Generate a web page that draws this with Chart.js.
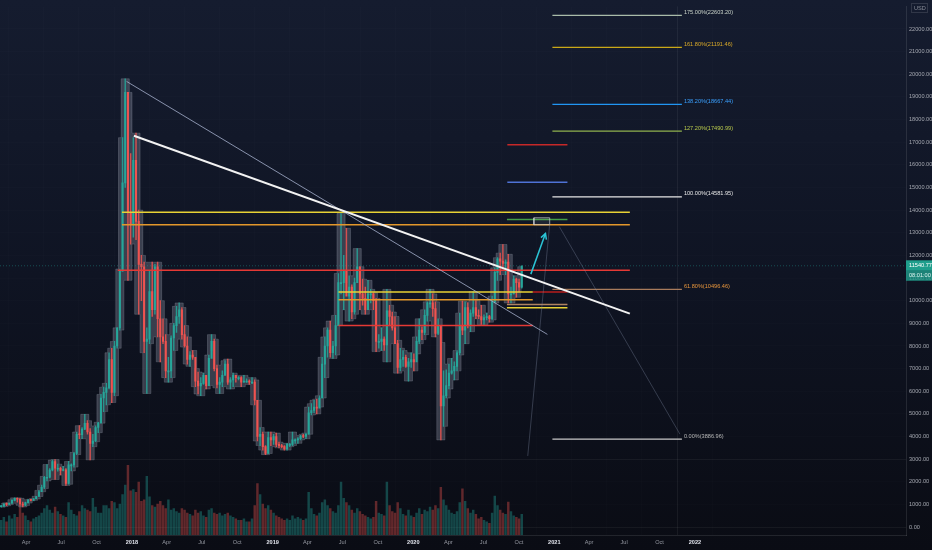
<!DOCTYPE html>
<html>
<head>
<meta charset="utf-8">
<script src="https://cdn.jsdelivr.net/npm/chart.js@4.4.0/dist/chart.umd.min.js"></script>
<style>
  html, body { margin: 0; padding: 0; background: #0b0e18; }
  #wrap { width: 932px; height: 550px; }
</style>
</head>
<body>
<div id="wrap"><canvas id="chart" width="932" height="550"></canvas></div>
<script>
// BTCUSD, nến tuần từ 2017-01-23 tới 2020-10-05
const firstWeek = "2017-01-23";
const firstOpen = 900;

const highs = [
  935,1040,1070,1065,1210,1290,1290,1270,1100,1100,1210,1230,1260,1360,1620,1850,2240,2760,2580,2960,2980,2780,2650,2680,2580,2900,2790,3300,4200,4480,4400,4980,4700,4350,4100,4470,4630,5860,6180,6350,7700,7900,8200,8800,11400,17200,19800,19200,16500,
  17200,17400,14000,12000,11700,8800,11300,11700,11600,11700,10000,9200,8500,7500,8450,9000,9750,9900,9700,8900,8400,7750,7800,7000,6850,6600,6800,6700,7600,8500,8300,7150,6600,6900,7350,7420,6600,6800,6700,6650,6650,6700,6550,6500,6600,6500,5600,4400,4200,3600,4200,4200,4100,
  4150,3750,3660,3600,3700,3700,4200,3900,3950,4050,4100,4150,5300,5450,5600,5650,5800,7500,8400,8800,9100,8200,9350,11200,13850,12000,13200,11100,10700,11000,12300,11500,10950,10600,10900,10500,10350,10100,8500,8800,8400,10500,9800,9500,9300,8250,7900,7800,7600,7450,7700,7650,
  8400,9200,8850,9600,9950,10500,10300,9950,9200,8150,6900,6950,7200,7450,7300,7800,9450,9980,9950,9900,9600,10400,10000,9600,9800,9380,9450,9350,10200,11450,11900,12100,12480,11800,12050,10600,11100,11000,10950,11500
];
const lows = [
  880,910,940,990,1050,1160,1100,960,890,950,1060,1160,1180,1240,1350,1560,1700,2040,2170,2480,2100,2470,2300,2480,1840,1890,2480,2650,3200,3900,3900,4300,4100,2970,3550,3770,4170,4590,5100,5400,6100,5500,5800,7900,8700,11300,15000,10900,12500,
  12800,12700,9400,10000,7700,5900,8100,9300,9400,8400,7300,8100,6600,6400,6600,7800,8600,9000,8300,7950,7200,7100,7400,6200,5880,5800,6300,6100,6250,7800,6900,6150,5900,6200,6800,6300,6100,6200,6400,6500,6200,6400,6400,6300,6350,5400,3800,3600,3400,3200,3250,3600,3650,
  3550,3500,3500,3400,3400,3550,3600,3700,3700,3850,3950,3900,4100,4950,5050,5000,5300,5700,6600,7500,7500,7450,7600,8900,10300,9600,10800,9100,9200,9400,11000,9600,9800,9400,9600,9900,9600,7750,7900,7800,7800,7300,8900,8700,8100,6800,6900,7100,7050,6450,7050,6900,
  7650,8100,8280,8500,9100,9700,9300,8400,8500,3850,4450,5700,6100,6750,6500,6900,7600,8500,8100,8800,8630,9300,9200,9200,8950,8950,9150,9050,9150,9900,10900,11150,11400,11150,9900,9900,10300,10150,10400,10550
];
const closes = [
  920,1020,1000,1055,1180,1270,1230,1020,970,1080,1190,1180,1250,1350,1560,1760,2200,2200,2520,2890,2600,2600,2500,2530,1930,2750,2750,3250,4100,4080,4330,4580,4200,3700,3800,4400,4600,5700,5950,6150,7400,5950,8000,8800,11300,15200,19200,13900,13400,
  16200,13500,11600,11500,8200,8300,10400,9600,11500,9200,8400,8200,6900,6900,8350,8900,9300,9600,8500,8000,7400,7600,7500,6450,6230,6350,6700,6250,7450,8200,7000,6300,6400,6700,7200,6400,6500,6700,6600,6600,6400,6450,6450,6400,6400,5600,4000,4100,3550,3250,3950,3850,4000,
  3650,3600,3550,3450,3650,3650,3850,3850,3900,4020,4000,4100,5050,5150,5300,5250,5700,7200,8000,8700,7700,8000,8900,10800,10800,11300,10200,10600,9500,10800,11500,10300,10100,9600,10300,10300,10000,8200,8200,8300,8050,9550,9300,8800,8100,7050,7400,7500,7100,7300,7400,7300,
  8200,8700,8600,9350,9900,9900,9650,8550,8900,5350,5800,6250,6800,6900,7100,7700,8900,8700,9700,8900,9450,9700,9350,9300,9150,9250,9300,9200,9950,11250,11850,11750,11650,11700,10300,10300,10950,10800,10600,11540.77
];
// khối lượng (đơn vị tương đối)
const volumes = [
  20,24,18,26,22,28,24,40,30,26,20,18,22,24,26,30,36,40,34,30,38,32,28,26,24,44,34,28,26,32,40,36,34,32,50,38,30,30,40,40,36,46,44,36,42,55,68,95,60,
  62,58,72,46,48,80,52,40,38,42,46,40,36,48,34,36,32,30,36,34,30,28,26,34,30,32,26,24,34,36,30,28,30,26,28,30,26,24,22,20,20,22,18,18,22,40,70,55,42,36,40,34,30,
  26,24,22,20,22,20,26,22,24,22,20,22,58,36,28,26,30,44,48,40,36,32,30,40,72,50,44,40,34,30,36,32,28,26,24,22,24,46,30,28,26,72,40,32,30,44,36,28,26,34,26,24,
  30,36,28,34,32,38,34,40,36,65,48,40,34,30,28,32,44,63,46,36,30,34,28,22,24,20,18,16,30,53,40,34,30,28,45,32,26,24,22,28
];
const lastPrice = 11540.77;

// trục
const xTickDates = ["2017-04-01","2017-07-01","2017-10-01","2018-01-01","2018-04-01","2018-07-01","2018-10-01","2019-01-01","2019-04-01","2019-07-01","2019-10-01","2020-01-01","2020-04-01","2020-07-01","2020-10-01","2021-01-01","2021-04-01","2021-07-01","2021-10-01","2022-01-01"];
const xTickLabels = ["Apr","Jul","Oct","2018","Apr","Jul","Oct","2019","Apr","Jul","Oct","2020","Apr","Jul","Oct","2021","Apr","Jul","Oct","2022"];
const yTickValues = [0,1000,2000,3000,4000,5000,6000,7000,8000,9000,10000,11000,12000,13000,14000,15000,16000,17000,18000,19000,20000,21000,22000];

// Fibonacci extension
const fibPct = [175, 161.8, 138.2, 127.2, 100, 61.8, 0];
const fibPrice = [22603.20, 21191.46, 18667.44, 17490.99, 14581.95, 10496.46, 3886.96];
const fibFrom = "2020-12-27";
const fibTo = "2021-11-28";

// các đường ngang vẽ tay
const levelPrice = [13910, 13355, 11348, 10387, 10038, 8904, 16891, 15232, 13590, 10387, 9833, 9689];
const levelFrom = ["2017-12-06","2017-12-06","2017-11-25","2019-06-21","2019-06-21","2019-06-21","2020-09-01","2020-09-01","2020-08-31","2020-11-06","2020-08-31","2020-08-31"];
const levelTo = ["2021-07-16","2021-07-16","2021-07-16","2020-11-06","2020-11-06","2020-11-06","2021-02-04","2021-02-04","2021-02-04","2021-02-04","2021-02-04","2021-02-04"];

// trend lines: [ngày đầu, giá đầu, ngày cuối, giá cuối]
const trendThin = ["2017-12-18", 19684, "2020-12-14", 8511];
const trendWhite = ["2018-01-06", 17284, "2021-07-16", 9427];
const arrowPath = ["2020-11-01", 11173, "2020-12-09", 12963];
const fibLegA = ["2020-10-24", 3142, "2020-12-20", 13399];
const fibLegB = ["2021-01-14", 13268, "2021-11-23", 4103];
const targetBox = ["2020-11-09", "2020-12-20", 13355, 13661];

// ---- styles ----
const UP = "#26a69a", DOWN = "#ef5350";
const levelColors = ["#e8d235","#e3972b","#e53935","#e8d235","#e3972b","#e53935","#c62828","#4f72d6","#43a047","#b71c1c","#b08462","#e8d235"];
const fibColors = ["#a9bba9","#c9a818","#2196f3","#8fb14e","#e6e6e6","#a87b5c","#c8c8c8"];
const fibLabelColors = ["#c9d3c9","#d9a928","#3aa0ff","#b8c94c","#e6e6e6","#e8963c","#b8b8b8"];
const FONT = "'Liberation Sans Narrow', 'Liberation Sans', sans-serif";

const DAY0 = Date.UTC(2017, 0, 1);
const toDay = s => (Date.parse(s) - DAY0) / 864e5;
const xMin = 22.5, xMax = 2373.6;

const weekX = closes.map((_, i) => toDay(firstWeek) + 7 * i + 3.5);
const opens = closes.map((c, i) => i === 0 ? firstOpen : closes[i - 1]);
const isUp = closes.map((c, i) => c >= opens[i]);

// kênh giá xám (max/min của 3 tuần liền nhau)
const bandHi = highs.map((h, i) => Math.max(...highs.slice(Math.max(0, i - 1), i + 2)));
const bandLo = lows.map((l, i) => Math.min(...lows.slice(Math.max(0, i - 1), i + 2)));

function seg(arr, color, width, order, extra) {
  return Object.assign({
    type: "line",
    data: [{ x: toDay(arr[0]), y: arr[1] }, { x: toDay(arr[2]), y: arr[3] }],
    borderColor: color, borderWidth: width, pointRadius: 0, order: order, fill: false
  }, extra || {});
}

const datasets = [];

// volume
datasets.push({
  type: "bar", yAxisID: "yv", order: 100, grouped: false, barThickness: 1.8,
  data: weekX.map((x, i) => ({ x: x, y: volumes[i] })),
  backgroundColor: isUp.map(u => u ? "rgba(38,166,154,0.38)" : "rgba(239,83,80,0.38)")
});

// band
datasets.push({
  type: "line", order: 90, stepped: "middle", pointRadius: 0, fill: "+1",
  data: weekX.map((x, i) => ({ x: x, y: bandHi[i] })),
  borderColor: "rgba(150,155,170,0.3)", borderWidth: 1, backgroundColor: "rgba(120,125,140,0.42)"
});
datasets.push({
  type: "line", order: 90, stepped: "middle", pointRadius: 0, fill: false,
  data: weekX.map((x, i) => ({ x: x, y: bandLo[i] })),
  borderColor: "rgba(150,155,170,0.3)", borderWidth: 1
});

// nến: râu + thân
datasets.push({
  type: "bar", order: 80, grouped: false, barThickness: 0.8,
  data: weekX.map((x, i) => ({ x: x, y: [lows[i], highs[i]] })),
  backgroundColor: isUp.map(u => u ? "rgba(38,166,154,0.85)" : "rgba(239,83,80,0.85)")
});
datasets.push({
  type: "bar", order: 70, grouped: false, barThickness: 1.4, minBarLength: 1,
  data: weekX.map((x, i) => ({ x: x, y: [opens[i], closes[i]] })),
  backgroundColor: isUp.map(u => u ? UP : DOWN)
});

// đường giá hiện tại
datasets.push({
  type: "line", order: 60, pointRadius: 0, borderWidth: 1, borderDash: [1, 2],
  borderColor: "rgba(38,166,154,0.4)",
  data: [{ x: xMin, y: lastPrice }, { x: xMax, y: lastPrice }]
});

// levels
levelPrice.forEach((p, i) => {
  datasets.push(seg([levelFrom[i], p, levelTo[i], p], levelColors[i], 1.5, 50));
});

// fib lines
fibPrice.forEach((p, i) => {
  datasets.push(seg([fibFrom, p, fibTo, p], fibColors[i], 1.2, 50));
});

// hộp mục tiêu
datasets.push({
  type: "line", order: 45, pointRadius: 0, borderWidth: 1, fill: "shape",
  borderColor: "rgba(210,215,220,0.65)", backgroundColor: "rgba(200,200,200,0.08)",
  data: [
    { x: toDay(targetBox[0]), y: targetBox[2] }, { x: toDay(targetBox[1]), y: targetBox[2] },
    { x: toDay(targetBox[1]), y: targetBox[3] }, { x: toDay(targetBox[0]), y: targetBox[3] },
    { x: toDay(targetBox[0]), y: targetBox[2] }
  ]
});

datasets.push(seg(fibLegA, "rgba(130,140,165,0.35)", 1, 44));
datasets.push(seg(fibLegB, "rgba(130,140,165,0.35)", 1, 44));
datasets.push(seg(trendThin, "rgba(175,185,215,0.75)", 1, 40));
datasets.push(seg(trendWhite, "#f2f2f2", 2, 38));
datasets.push(seg(arrowPath, "#2bc4d6", 1.5, 30, { label: "arrow" }));

const overlay = {
  id: "overlay",
  beforeDraw(chart) {
    const { ctx, width, height } = chart;
    const g = ctx.createLinearGradient(0, 0, 0, height);
    g.addColorStop(0, "#151c2f");
    g.addColorStop(0.5, "#0f1423");
    g.addColorStop(1, "#0a0c14");
    ctx.save();
    ctx.fillStyle = g;
    ctx.fillRect(0, 0, width, height);
    ctx.restore();
  },
  afterDatasetsDraw(chart) {
    // đầu mũi tên
    const idx = chart.data.datasets.findIndex(d => d.label === "arrow");
    const pts = chart.getDatasetMeta(idx).data;
    const a = pts[0], b = pts[1];
    const ang = Math.atan2(b.y - a.y, b.x - a.x);
    const ctx = chart.ctx;
    ctx.save();
    ctx.strokeStyle = "#2bc4d6";
    ctx.lineWidth = 1.5;
    ctx.beginPath();
    ctx.moveTo(b.x - 6 * Math.cos(ang - 0.5), b.y - 6 * Math.sin(ang - 0.5));
    ctx.lineTo(b.x, b.y);
    ctx.lineTo(b.x - 6 * Math.cos(ang + 0.5), b.y - 6 * Math.sin(ang + 0.5));
    ctx.stroke();
    ctx.restore();
  },
  afterDraw(chart) {
    const { ctx, scales: { x, y } } = chart;
    ctx.save();
    ctx.font = "5.6px " + FONT;
    ctx.textBaseline = "middle";
    // nhãn fib
    const fx = x.getPixelForValue(toDay(fibTo)) + 2;
    fibPrice.forEach((p, i) => {
      ctx.fillStyle = fibLabelColors[i];
      ctx.fillText(fibPct[i].toFixed(2) + "%(" + p.toFixed(2) + ")", fx, y.getPixelForValue(p) - 3);
    });
    // nhãn giá hiện tại
    const py = y.getPixelForValue(lastPrice);
    ctx.fillStyle = "#1f9e8c";
    ctx.fillRect(x.right, py - 5.5, 26, 10.5);
    ctx.fillStyle = "rgba(31,158,140,0.8)";
    ctx.fillRect(x.right, py + 5, 26, 10);
    ctx.fillStyle = "#ffffff";
    ctx.fillText(lastPrice.toFixed(2), x.right + 3, py);
    ctx.fillStyle = "#d9f3ef";
    ctx.fillText("08:01:00", x.right + 3, py + 10);
    // USD
    ctx.strokeStyle = "rgba(255,255,255,0.12)";
    ctx.strokeRect(x.right + 5.5, 3.5, 16, 9);
    ctx.fillStyle = "#8a8e99";
    ctx.fillText("USD", x.right + 8, 8);
    ctx.restore();
  }
};

new Chart(document.getElementById("chart"), {
  type: "bar",
  data: { datasets: datasets },
  plugins: [overlay],
  options: {
    responsive: false,
    devicePixelRatio: 1,
    animation: false,
    layout: { padding: 0 },
    plugins: { legend: { display: false }, tooltip: { enabled: false } },
    scales: {
      x: {
        type: "linear", position: "bottom", min: xMin, max: xMax, offset: false,
        afterFit(scale) { scale.height = 15; },
        afterBuildTicks(scale) { scale.ticks = xTickDates.map(d => ({ value: toDay(d) })); },
        grid: {
          drawTicks: false,
          color: ctx => xTickLabels[ctx.index] === "2022" ? "rgba(255,255,255,0.06)" : "rgba(255,255,255,0.012)"
        },
        border: { color: "rgba(255,255,255,0.1)" },
        ticks: {
          autoSkip: false, maxRotation: 0, padding: 4,
          callback: (v, i) => xTickLabels[i],
          color: ctx => /^\d/.test(xTickLabels[ctx.index]) ? "#e0e3eb" : "#9598a1",
          font: ctx => ({ family: FONT, size: 5.6, weight: /^\d/.test(xTickLabels[ctx.index]) ? "bold" : "normal" })
        }
      },
      y: {
        type: "linear", position: "right", min: -350, max: 23000,
        afterFit(scale) { scale.width = 26; },
        afterBuildTicks(scale) { scale.ticks = yTickValues.map(v => ({ value: v })); },
        grid: { drawTicks: false, color: ctx => ctx.tick && (ctx.tick.value === 3000 || ctx.tick.value === 0) ? "rgba(255,255,255,0.05)" : "rgba(255,255,255,0.012)" },
        border: { color: "rgba(255,255,255,0.1)" },
        ticks: {
          autoSkip: false, padding: 3, color: "#a3a6af",
          font: { family: FONT, size: 5.6 },
          callback: v => v.toFixed(2)
        }
      },
      yv: { display: false, min: 0, max: 720 }
    }
  }
});
</script>
</body>
</html>
